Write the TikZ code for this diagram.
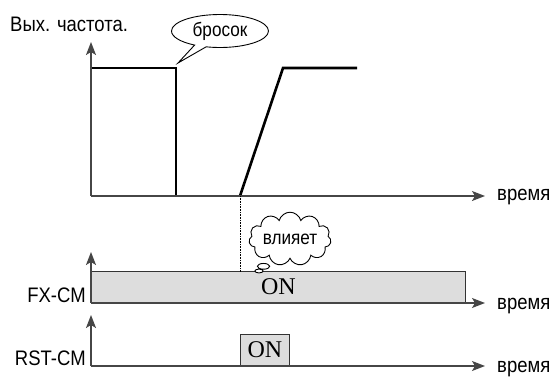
\documentclass[tikz,border=0pt]{standalone}
\usepackage{fontspec}
\usepackage{graphicx}
\setmainfont{Liberation Sans}
\newfontfamily\onfont{Liberation Serif}
\usetikzlibrary{arrows.meta,positioning,shapes.callouts,shapes.symbols}
\definecolor{axisgray}{RGB}{70,70,70}
\definecolor{onfill}{RGB}{221,221,221}
\definecolor{darkgray}{RGB}{51,51,51}
\newcommand{\narrowtxt}[1]{\scalebox{0.88}[1]{#1}}
\tikzset{
  axis/.style   ={-{Stealth[length=13pt,width=10pt,inset=3pt]}, line width=1.3pt, draw=axisgray},
  signal/.style ={line width=2.6pt, draw=black, line join=miter},
  onbox/.style  ={rectangle, draw=darkgray, line width=1pt, fill=onfill, inner sep=0pt,
                  font=\onfont\fontsize{24}{26}\selectfont},
  lbl/.style    ={font=\fontsize{21}{24}\selectfont, inner sep=0pt},
  speech/.style ={ellipse callout, draw=black, line width=0.9pt, fill=white, inner sep=0pt,
                  minimum width=97pt, minimum height=33pt, font=\fontsize{19.5}{22}\selectfont},
  thought/.style={cloud callout, draw=black, line width=0.9pt, fill=white, inner sep=0pt,
                  cloud puffs=11, aspect=2, minimum width=80pt, minimum height=46pt,
                  font=\fontsize{19.5}{22}\selectfont},
  marker/.style ={densely dotted, line width=0.6pt, draw=black}
}

\begin{document}
\begin{tikzpicture}[x=1pt, y=-1pt]
\useasboundingbox (0,0) rectangle (555,377);
% output frequency
\coordinate (o1) at (91,196);
\coordinate (y1) at (91,42);
\coordinate (x1) at (485,196);
\coordinate (f0) at (91,68);
\coordinate (f1) at (176,68);
\coordinate (f2) at (176,196);
\coordinate (r0) at (240,196);
\coordinate (r1) at (283,68);
\coordinate (r2) at (357,68);
\draw[signal] (f0) -- (f1) -- (f2);
\draw[signal] (r0) -- (r1) -- (r2);
\draw[axis] (o1) -- (y1);
\draw[axis] (o1) -- (x1);
\node[lbl, anchor=base west] (freq) at (10,32) {\narrowtxt{Вых. частота.}};
\node[lbl, anchor=base west] (t1) at (497,201) {\narrowtxt{время}};
\coordinate (tip1) at (178,63);
\node[speech, callout absolute pointer={(tip1)}] (brosok) at (220,31) {\narrowtxt{бросок}};

% FX-CM
\coordinate (o2) at (91,303);
\coordinate (y2) at (91,252);
\coordinate (x2) at (485,303);
\node[onbox, minimum width=374pt, minimum height=31pt, anchor=south west] (fxon) at (o2) {ON};
\draw[axis] (o2) -- (y2);
\draw[axis] (o2) -- (x2);
\node[lbl, anchor=base east] (fx) at (86,302) {\narrowtxt{FX-CM}};
\node[lbl, anchor=base west] (t2) at (497,309) {\narrowtxt{время}};
\coordinate (m1) at (240,272);
\draw[marker] (r0) -- (m1);
\coordinate (tip2) at (259,271);
\node[thought, callout absolute pointer={(tip2)}] (vliyaet) at (290,239) {\narrowtxt{влияет}};

% RST-CM
\coordinate (o3) at (91,366);
\coordinate (y3) at (91,315);
\coordinate (x3) at (485,366);
\node[onbox, minimum width=49pt, minimum height=31pt, anchor=south west] (rston) at (240,366) {ON};
\draw[axis] (o3) -- (y3);
\draw[axis] (o3) -- (x3);
\node[lbl, anchor=base east] (rst) at (86,365) {\narrowtxt{RST-CM}};
\node[lbl, anchor=base west] (t3) at (497,372) {\narrowtxt{время}};
\end{tikzpicture}
\end{document}
